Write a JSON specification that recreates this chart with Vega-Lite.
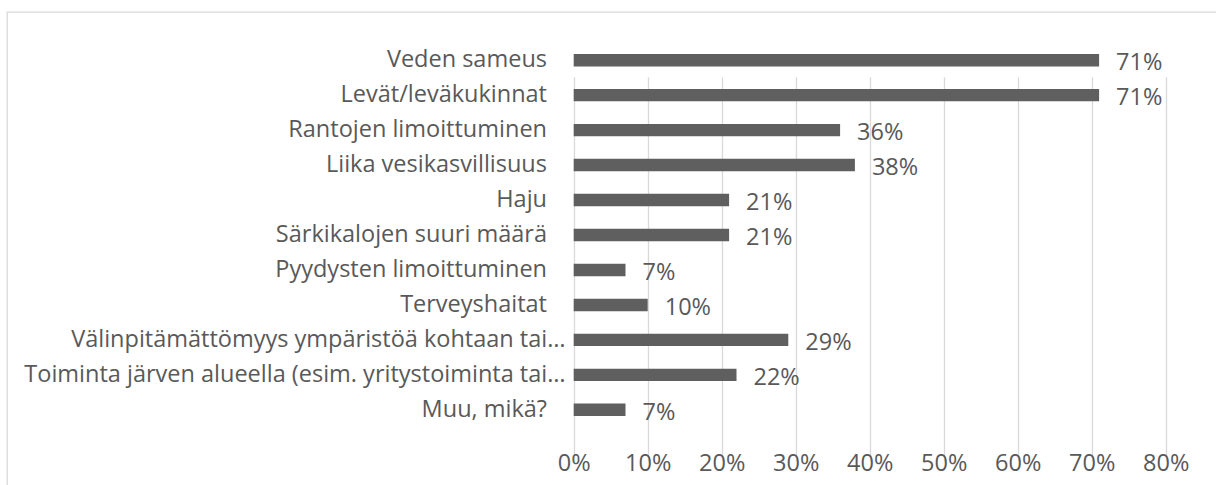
{
  "$schema": "https://vega.github.io/schema/vega-lite/v6.json",
  "autosize": "none",
  "padding": {"left": 7, "top": 12, "right": 0, "bottom": 0},
  "width": 1216,
  "height": 480,
  "background": "white",
  "config": {
    "view": {"stroke": "#d9d9d9", "strokeWidth": 1.3},
    "font": "Open Sans"
  },
  "data": {
    "values": [
      {"label": "Veden sameus", "value": 0.71},
      {"label": "Levät/leväkukinnat", "value": 0.71},
      {"label": "Rantojen limoittuminen", "value": 0.36},
      {"label": "Liika vesikasvillisuus", "value": 0.38},
      {"label": "Haju", "value": 0.21},
      {"label": "Särkikalojen suuri määrä", "value": 0.21},
      {"label": "Pyydysten limoittuminen", "value": 0.07},
      {"label": "Terveyshaitat", "value": 0.10},
      {"label": "Välinpitämättömyys ympäristöä kohtaan tai…", "value": 0.29},
      {"label": "Toiminta järven alueella (esim. yritystoiminta tai…", "value": 0.22},
      {"label": "Muu, mikä?", "value": 0.07}
    ]
  },
  "encoding": {
    "y": {
      "field": "label",
      "type": "nominal",
      "sort": null,
      "scale": {"range": [30.7, 415.3], "paddingInner": 0.645, "paddingOuter": 0.3225},
      "axis": {
        "title": null,
        "orient": "left",
        "offset": -558,
        "domain": false,
        "ticks": false,
        "grid": false,
        "labelPadding": {"condition": {"test": "indexof(datum.value, '…') >= 0", "value": 0}, "value": 18.5},
        "labelFont": "Open Sans",
        "labelFontSize": 23.5,
        "labelColor": "#595959",
        "labelLimit": 700
      }
    },
    "x": {
      "field": "value",
      "type": "quantitative",
      "scale": {"domain": [0, 0.8], "range": [566.7, 1158.7], "nice": false, "zero": true},
      "axis": {
        "title": null,
        "orient": "bottom",
        "offset": -29,
        "format": ".0%",
        "values": [0, 0.1, 0.2, 0.3, 0.4, 0.5, 0.6, 0.7, 0.8],
        "domain": false,
        "ticks": false,
        "grid": true,
        "gridColor": "#d9d9d9",
        "gridWidth": 1.3,
        "labelPadding": 0,
        "labelBaseline": "middle",
        "labelFont": "Open Sans",
        "labelFontSize": 23.5,
        "labelColor": "#595959",
        "labelFlush": false
      }
    }
  },
  "layer": [
    {"mark": {"type": "bar", "color": "#5f5f5f"}},
    {
      "mark": {"type": "text", "align": "left", "baseline": "middle", "dx": 17, "dy": 3, "font": "Open Sans", "fontSize": 23.5, "color": "#595959"},
      "encoding": {"text": {"field": "value", "type": "quantitative", "format": ".0%"}}
    }
  ]
}
